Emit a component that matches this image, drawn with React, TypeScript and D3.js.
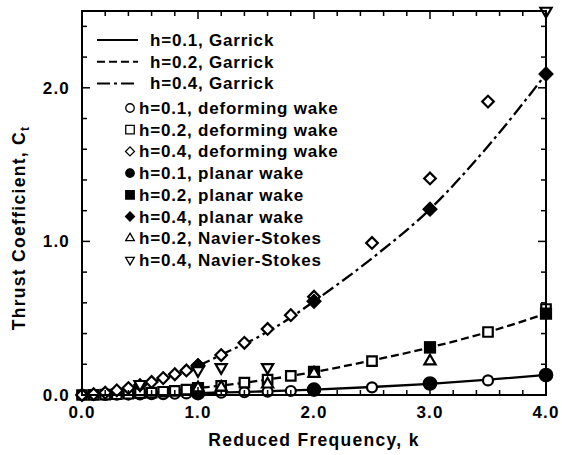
import React from 'react';
import * as d3 from 'd3';

// ---- data ----
const kDense = [0, 0.1, 0.2, 0.3, 0.4, 0.5, 0.6, 0.7, 0.8, 0.9, 1.0, 1.2, 1.4, 1.6, 1.8, 2.0, 2.5, 3.0, 3.5, 4.0];
const deform01 = [0, 0, 0.001, 0.002, 0.003, 0.004, 0.005, 0.006, 0.008, 0.01, 0.012, 0.015, 0.018, 0.021, 0.026, 0.032, 0.05, 0.07, 0.095, 0.125];
const deform02 = [0, 0.001, 0.003, 0.005, 0.008, 0.012, 0.016, 0.021, 0.027, 0.035, 0.043, 0.06, 0.08, 0.1, 0.125, 0.15, 0.22, 0.31, 0.41, 0.56];
const kDeform04 = [0, 0.1, 0.2, 0.3, 0.4, 0.5, 0.6, 0.7, 0.8, 0.9, 1.0, 1.2, 1.4, 1.6, 1.8, 2.0, 2.5, 3.0, 3.5];
const deform04 = [0, 0.005, 0.015, 0.03, 0.045, 0.065, 0.085, 0.11, 0.135, 0.16, 0.195, 0.26, 0.34, 0.43, 0.52, 0.64, 0.99, 1.41, 1.91];

const kPlanar = [1.0, 2.0, 3.0, 4.0];
const planar01 = [0.012, 0.035, 0.075, 0.13];
const planar02 = [0.045, 0.15, 0.31, 0.53];
const planar04 = [0.19, 0.61, 1.21, 2.09];

const kNS02 = [1.0, 1.2, 1.6, 2.0, 3.0];
const ns02 = [0.045, 0.05, 0.07, 0.14, 0.22];
const kNS04 = [0.5, 1.0, 1.2, 1.6, 4.0];
const ns04 = [0.07, 0.16, 0.18, 0.18, 2.5];

const kGarrick = [0, 0.25, 0.5, 0.75, 1, 1.25, 1.5, 1.75, 2, 2.5, 3, 3.5, 4];
const garrick01 = [0, 0.001, 0.003, 0.007, 0.012, 0.017, 0.022, 0.028, 0.035, 0.052, 0.073, 0.1, 0.13];
const garrick02 = [0, 0.004, 0.012, 0.026, 0.045, 0.066, 0.09, 0.118, 0.15, 0.225, 0.31, 0.41, 0.53];
const garrick04 = [0, 0.02, 0.06, 0.12, 0.19, 0.28, 0.37, 0.48, 0.61, 0.89, 1.21, 1.62, 2.09];

const xTickLabels = [0, 1, 2, 3, 4];
const yTickLabels = [0, 1, 2];

const lineLegend = ['h=0.1, Garrick', 'h=0.2, Garrick', 'h=0.4, Garrick'];
const markerLegend = [
  'h=0.1, deforming wake',
  'h=0.2, deforming wake',
  'h=0.4, deforming wake',
  'h=0.1, planar wake',
  'h=0.2, planar wake',
  'h=0.4, planar wake',
  'h=0.2, Navier-Stokes',
  'h=0.4, Navier-Stokes',
];

const W = 562;
const H = 455;
const FONT = '"Liberation Sans", Arial, Helvetica, sans-serif';

type Shape = 'circle' | 'square' | 'diamond' | 'tri' | 'tridown';

function markerPath(shape: Shape, size: number): string {
  if (shape === 'circle') return d3.symbol(d3.symbolCircle, size * size * Math.PI / 4)()!;
  if (shape === 'square' || shape === 'diamond') return d3.symbol(d3.symbolSquare, size * size)()!;
  return d3.symbol(d3.symbolTriangle, size * size * 0.45)()!;
}

function Marker({ x, y, shape, filled, size, sw = 2 }: { x: number; y: number; shape: Shape; filled: boolean; size: number; sw?: number }) {
  let rot = 0;
  if (shape === 'diamond') rot = 45;
  if (shape === 'tridown') rot = 180;
  const s = shape === 'diamond' ? size * 0.75 : size;
  return (
    <path
      d={markerPath(shape, s)}
      transform={`translate(${x},${y}) rotate(${rot})`}
      fill={filled ? '#000' : '#fff'}
      stroke="#000"
      strokeWidth={sw}
    />
  );
}

export default function App() {
  const x = d3.scaleLinear().domain([0, 4]).range([82, 546]);
  const y = d3.scaleLinear().domain([0, 2.5]).range([395, 11]);
  const [x0, x1] = x.range();
  const [y0, y1] = y.range();

  const line = (ks: number[], vs: number[]) =>
    d3.line<number>().x((_, i) => x(ks[i])).y((v) => y(v)).curve(d3.curveMonotoneX)(vs)!;

  const xMinor = d3.range(0, 4.0001, 0.2);
  const yMinor = d3.range(0, 2.5001, 0.2);

  const dashStyles = ['none', '8,4', '13,4,3,4'];
  const legendMarkers: { shape: Shape; filled: boolean }[] = [
    { shape: 'circle', filled: false },
    { shape: 'square', filled: false },
    { shape: 'diamond', filled: false },
    { shape: 'circle', filled: true },
    { shape: 'square', filled: true },
    { shape: 'diamond', filled: true },
    { shape: 'tri', filled: false },
    { shape: 'tridown', filled: false },
  ];

  const series: { ks: number[]; vs: number[]; shape: Shape; filled: boolean; size: number }[] = [
    { ks: kDense, vs: deform01, shape: 'circle', filled: false, size: 10 },
    { ks: kDense, vs: deform02, shape: 'square', filled: false, size: 9.5 },
    { ks: kDeform04, vs: deform04, shape: 'diamond', filled: false, size: 11 },
    { ks: kPlanar, vs: planar01, shape: 'circle', filled: true, size: 12.5 },
    { ks: kPlanar, vs: planar02, shape: 'square', filled: true, size: 10 },
    { ks: kPlanar, vs: planar04, shape: 'diamond', filled: true, size: 12 },
    { ks: kNS02, vs: ns02, shape: 'tri', filled: false, size: 11 },
    { ks: kNS04, vs: ns04, shape: 'tridown', filled: false, size: 11 },
  ];

  return (
    <svg width={W} height={H} style={{ position: 'absolute', left: 0, top: 0, background: '#fff' }} fontFamily={FONT}>
      <rect x={0} y={0} width={W} height={H} fill="#fff" />
      {/* curves */}
      <g fill="none" stroke="#000" strokeWidth={2.3}>
        <path d={line(kGarrick, garrick01)} />
        <path d={line(kGarrick, garrick02)} strokeDasharray={dashStyles[1]} />
        <path d={line(kGarrick, garrick04)} strokeDasharray={dashStyles[2]} />
      </g>
      {/* markers */}
      {series.map((s, si) =>
        s.vs.map((v, i) => (
          <Marker key={`${si}-${i}`} x={x(s.ks[i])} y={y(v)} shape={s.shape} filled={s.filled} size={s.size} sw={2.2} />
        ))
      )}
      {/* frame */}
      <rect x={x0} y={y1} width={x1 - x0} height={y0 - y1} fill="none" stroke="#000" strokeWidth={2} />
      {/* ticks */}
      <g stroke="#000" strokeWidth={1.5}>
        {xMinor.map((k, i) => {
          const major = Math.abs(k - Math.round(k)) < 1e-6;
          const L = major ? 8 : 5;
          return (
            <g key={`xt${i}`}>
              <line x1={x(k)} x2={x(k)} y1={y0} y2={y0 - L} />
              <line x1={x(k)} x2={x(k)} y1={y1} y2={y1 + L} />
            </g>
          );
        })}
        {yMinor.map((v, i) => {
          const major = Math.abs(v - Math.round(v)) < 1e-6;
          const L = major ? 8 : 5;
          return (
            <g key={`yt${i}`}>
              <line x1={x0} x2={x0 + L} y1={y(v)} y2={y(v)} />
              <line x1={x1} x2={x1 - L} y1={y(v)} y2={y(v)} />
            </g>
          );
        })}
      </g>
      {/* tick labels */}
      <g fontSize={17} fontWeight="bold" letterSpacing={1.2}>
        {xTickLabels.map((k) => (
          <text key={`xl${k}`} x={x(k)} y={418} textAnchor="middle">
            {d3.format('.1f')(k)}
          </text>
        ))}
        {yTickLabels.map((v) => (
          <text key={`yl${v}`} x={70} y={y(v) + 6} textAnchor="end">
            {d3.format('.1f')(v)}
          </text>
        ))}
      </g>
      {/* axis titles */}
      <text x={x(2)} y={446} textAnchor="middle" fontSize={17.5} fontWeight="bold" letterSpacing={1.3}>
        Reduced Frequency, k
      </text>
      <text
        transform={`translate(25,228) rotate(-90)`}
        textAnchor="middle"
        fontSize={17.5}
        fontWeight="bold"
        letterSpacing={1.3}
      >
        Thrust Coefficient, C<tspan fontSize={12} dy={4}>t</tspan>
      </text>
      {/* legend */}
      <g fontSize={17} fontWeight="bold" letterSpacing={0.8}>
        {lineLegend.map((t, i) => {
          const ly = 40 + i * 21.7;
          return (
            <g key={`ll${i}`}>
              <line x1={97} x2={138} y1={ly} y2={ly} stroke="#000" strokeWidth={2} strokeDasharray={dashStyles[i]} />
              <text x={150} y={ly + 6}>{t}</text>
            </g>
          );
        })}
        {markerLegend.map((t, i) => {
          const ly = 108 + i * 21.7;
          const m = legendMarkers[i];
          return (
            <g key={`ml${i}`}>
              <Marker x={130} y={ly} shape={m.shape} filled={m.filled} size={8.5} sw={1.3} />
              <text x={139} y={ly + 6}>{t}</text>
            </g>
          );
        })}
      </g>
    </svg>
  );
}
